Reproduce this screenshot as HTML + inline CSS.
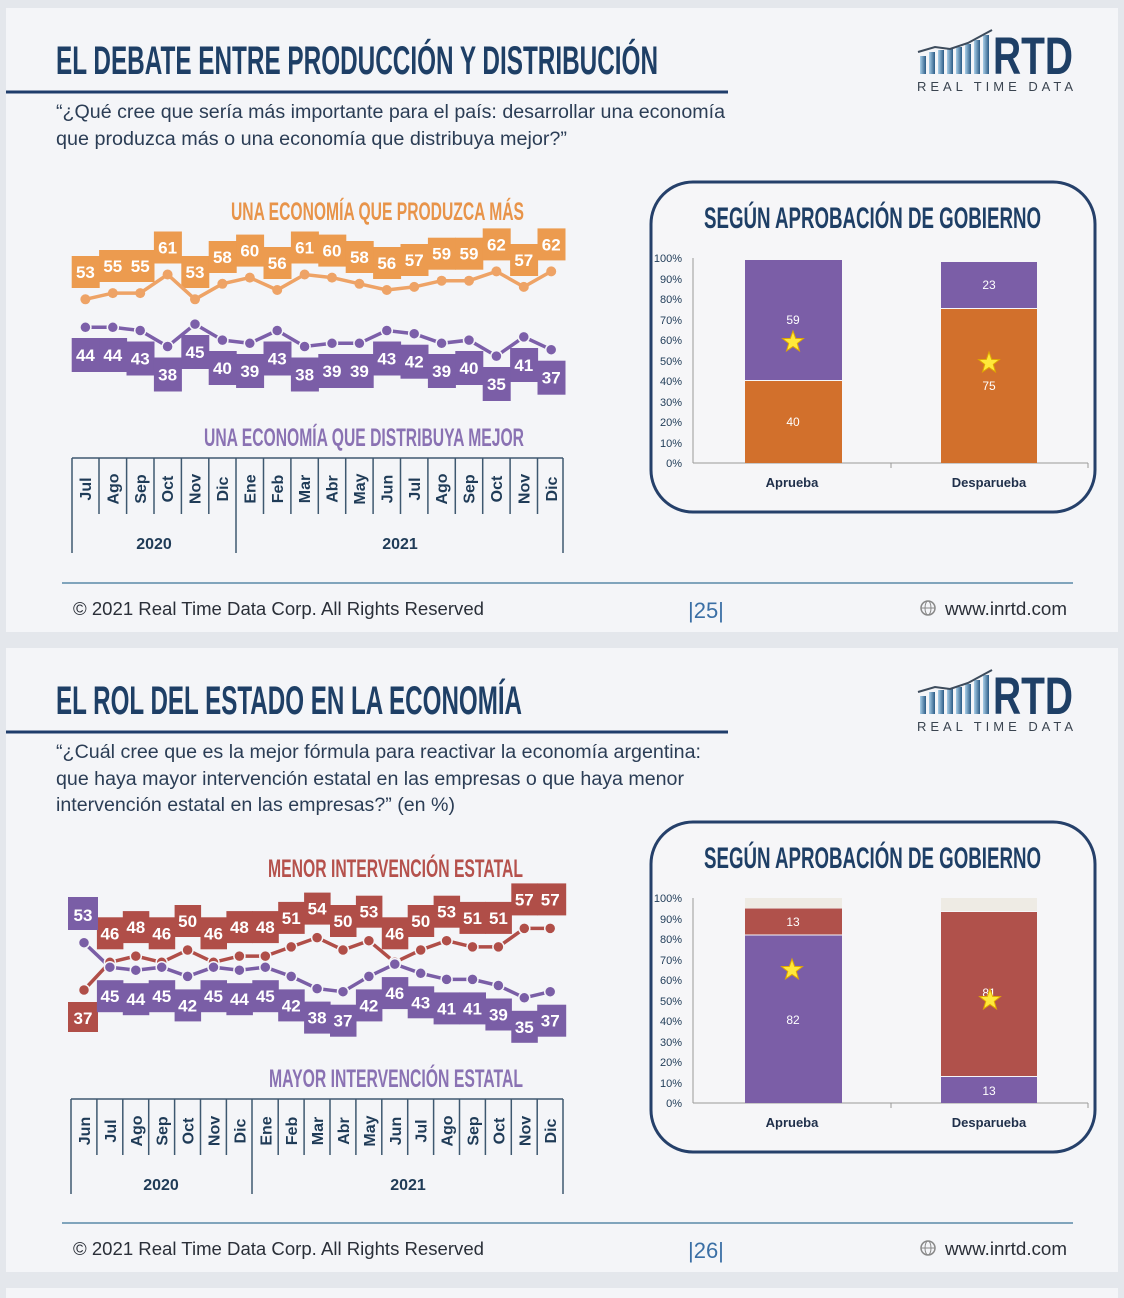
<!DOCTYPE html>
<html><head><meta charset="utf-8"><style>
html,body{margin:0;padding:0;background:#e4e7ec;}
svg{display:block}
text{font-family:"Liberation Sans",sans-serif}
.cd{font-family:"Liberation Sans Narrow","Liberation Sans",sans-serif;font-weight:bold}
.lbl{fill:#fff;font-weight:bold;font-size:17px;text-anchor:middle}
.mo{fill:#1f3b57;font-weight:bold;font-size:16px;text-anchor:middle}
.yt{fill:#1f3b57;font-size:11px;text-anchor:end}
</style></head><body>
<svg width="1124" height="1298" viewBox="0 0 1124 1298" xmlns="http://www.w3.org/2000/svg">
<defs>
<linearGradient id="lg" x1="0" x2="1" y1="0" y2="0"><stop offset="0" stop-color="#a9cfe8"/><stop offset="1" stop-color="#2b5b86"/></linearGradient>
<polygon id="star" points="0,-11 2.64,-3.64 10.46,-3.4 4.28,1.39 6.47,8.9 0,4.5 -6.47,8.9 -4.28,1.39 -10.46,-3.4 -2.64,-3.64" fill="#ffe93a" stroke="#e0a800" stroke-width="1"/>
<g id="common">
<rect x="6" y="8" width="1112" height="624" fill="#f4f5f8"/>
<line x1="6" y1="92" x2="728" y2="92" stroke="#1f3d6b" stroke-width="3"/>
<g>
<rect x="920" y="56" width="6" height="18" fill="url(#lg)"/><rect x="929" y="52" width="6" height="22" fill="url(#lg)"/><rect x="938" y="50" width="6" height="24" fill="url(#lg)"/><rect x="947" y="49" width="6" height="25" fill="url(#lg)"/><rect x="956" y="47" width="6" height="27" fill="url(#lg)"/><rect x="965" y="44" width="6" height="30" fill="url(#lg)"/><rect x="974" y="40" width="6" height="34" fill="url(#lg)"/><rect x="983" y="35" width="6" height="39" fill="url(#lg)"/>
<polyline points="918,52 935,47 950,49 968,43 992,30" fill="none" stroke="#3d4b5c" stroke-width="2"/>
<text x="993" y="74" class="cd" font-size="53" fill="#1e3f66" textLength="80" lengthAdjust="spacingAndGlyphs">RTD</text>
<text x="917" y="91" font-size="13" fill="#3a4450" textLength="156" lengthAdjust="spacing">REAL TIME DATA</text>
</g>
<rect x="651" y="182" width="444" height="330" rx="42" fill="#f6f6f8" stroke="#25406a" stroke-width="3"/>
<text x="704" y="228" class="cd" font-size="30" fill="#1e3f66" textLength="337" lengthAdjust="spacingAndGlyphs">SEGÚN APROBACIÓN DE GOBIERNO</text>
<g class="yt"><text x="682" y="262" class="yt">100%</text><text x="682" y="283" class="yt">90%</text><text x="682" y="303" class="yt">80%</text><text x="682" y="324" class="yt">70%</text><text x="682" y="344" class="yt">60%</text><text x="682" y="365" class="yt">50%</text><text x="682" y="385" class="yt">40%</text><text x="682" y="406" class="yt">30%</text><text x="682" y="426" class="yt">20%</text><text x="682" y="447" class="yt">10%</text><text x="682" y="467" class="yt">0%</text></g>
<line x1="693" y1="258" x2="693" y2="463" stroke="#999"/>
<line x1="693" y1="463" x2="1088" y2="463" stroke="#999"/>
<line x1="891" y1="463" x2="891" y2="468" stroke="#999"/><line x1="1088" y1="463" x2="1088" y2="468" stroke="#999"/>
<text x="792" y="487" font-size="13" font-weight="bold" fill="#1f2f4a" text-anchor="middle">Aprueba</text>
<text x="989" y="487" font-size="13" font-weight="bold" fill="#1f2f4a" text-anchor="middle">Desparueba</text>
<line x1="62" y1="583" x2="1073" y2="583" stroke="#5a8aa8" stroke-width="1.5"/>
<text x="73" y="615" font-size="18" fill="#2a2f38" textLength="411" lengthAdjust="spacingAndGlyphs">© 2021 Real Time Data Corp. All Rights Reserved</text>
<circle cx="928" cy="608" r="7" fill="none" stroke="#888" stroke-width="1.5"/><ellipse cx="928" cy="608" rx="3" ry="7" fill="none" stroke="#888"/><line x1="921" y1="608" x2="935" y2="608" stroke="#888"/>
<text x="945" y="615" font-size="18" fill="#2a2f38" textLength="122" lengthAdjust="spacingAndGlyphs">www.inrtd.com</text>
</g>
</defs>
<use href="#common"/>
<use href="#common" transform="translate(0,640)"/>
<rect x="6" y="1288" width="1112" height="10" fill="#f4f5f8"/>

<!-- SLIDE 1 -->
<text x="56" y="74" class="cd" font-size="40" fill="#1e3f66" textLength="602" lengthAdjust="spacingAndGlyphs">EL DEBATE ENTRE PRODUCCIÓN Y DISTRIBUCIÓN</text>
<text x="56" y="118" font-size="19" fill="#2b3d55" textLength="669" lengthAdjust="spacingAndGlyphs">“¿Qué cree que sería más importante para el país: desarrollar una economía</text>
<text x="56" y="145" font-size="19" fill="#2b3d55" textLength="511" lengthAdjust="spacingAndGlyphs">que produzca más o una economía que distribuya mejor?”</text>
<text x="688" y="618" font-size="22" fill="#3a6fa5">|25|</text>
<text x="231" y="220" class="cd" font-size="25" fill="#e8944a" textLength="293" lengthAdjust="spacingAndGlyphs">UNA ECONOMÍA QUE PRODUZCA MÁS</text>
<text x="204" y="446" class="cd" font-size="25" fill="#8a72b3" textLength="320" lengthAdjust="spacingAndGlyphs">UNA ECONOMÍA QUE DISTRIBUYA MEJOR</text>
<g fill="#ec9b4f">
<rect x="71.7" y="256" width="28" height="32"/><rect x="99.1" y="250" width="28" height="32"/><rect x="126.5" y="250" width="28" height="32"/><rect x="153.9" y="231.5" width="28" height="32"/><rect x="181.3" y="256" width="28" height="32"/><rect x="208.7" y="241" width="28" height="32"/><rect x="236.1" y="234.6" width="28" height="32"/><rect x="263.5" y="247" width="28" height="32"/><rect x="290.9" y="231.5" width="28" height="32"/><rect x="318.3" y="234.6" width="28" height="32"/><rect x="345.7" y="241" width="28" height="32"/><rect x="373.1" y="247" width="28" height="32"/><rect x="400.5" y="244" width="28" height="32"/><rect x="427.9" y="237.7" width="28" height="32"/><rect x="455.3" y="237.7" width="28" height="32"/><rect x="482.7" y="228.4" width="28" height="32"/><rect x="510.1" y="244" width="28" height="32"/><rect x="537.5" y="228.4" width="28" height="32"/>
</g>
<g fill="#7b5ea7">
<rect x="71.7" y="338" width="28" height="34"/><rect x="99.1" y="338" width="28" height="34"/><rect x="126.5" y="341.5" width="28" height="34"/><rect x="153.9" y="357.5" width="28" height="34"/><rect x="181.3" y="335" width="28" height="34"/><rect x="208.7" y="351" width="28" height="34"/><rect x="236.1" y="354" width="28" height="34"/><rect x="263.5" y="341.5" width="28" height="34"/><rect x="290.9" y="357.5" width="28" height="34"/><rect x="318.3" y="354" width="28" height="34"/><rect x="345.7" y="354" width="28" height="34"/><rect x="373.1" y="341.5" width="28" height="34"/><rect x="400.5" y="344.7" width="28" height="34"/><rect x="427.9" y="354" width="28" height="34"/><rect x="455.3" y="351" width="28" height="34"/><rect x="482.7" y="367" width="28" height="34"/><rect x="510.1" y="348" width="28" height="34"/><rect x="537.5" y="360.7" width="28" height="34"/>
</g>
<polyline fill="none" stroke="#eea366" stroke-width="3.5" points="85.4,299.3 112.8,293.1 140.2,293.1 167.6,274.5 195,299.3 222.4,283.8 249.8,277.6 277.2,290 304.6,274.5 332,277.6 359.4,283.8 386.8,290 414.2,286.9 441.6,280.7 469,280.7 496.4,271.4 523.8,286.9 551.2,271.4"/>
<g fill="#eea366"><circle cx="85.4" cy="299.3" r="5"/><circle cx="112.8" cy="293.1" r="5"/><circle cx="140.2" cy="293.1" r="5"/><circle cx="167.6" cy="274.5" r="5"/><circle cx="195" cy="299.3" r="5"/><circle cx="222.4" cy="283.8" r="5"/><circle cx="249.8" cy="277.6" r="5"/><circle cx="277.2" cy="290" r="5"/><circle cx="304.6" cy="274.5" r="5"/><circle cx="332" cy="277.6" r="5"/><circle cx="359.4" cy="283.8" r="5"/><circle cx="386.8" cy="290" r="5"/><circle cx="414.2" cy="286.9" r="5"/><circle cx="441.6" cy="280.7" r="5"/><circle cx="469" cy="280.7" r="5"/><circle cx="496.4" cy="271.4" r="5"/><circle cx="523.8" cy="286.9" r="5"/><circle cx="551.2" cy="271.4" r="5"/></g>
<polyline fill="none" stroke="#7c5fa9" stroke-width="3.5" points="85.4,327.3 112.8,327.3 140.2,330.5 167.6,346.5 195,324.1 222.4,340.1 249.8,343.3 277.2,330.5 304.6,346.5 332,343.3 359.4,343.3 386.8,330.5 414.2,333.7 441.6,343.3 469,340.1 496.4,356.1 523.8,336.9 551.2,349.7"/>
<g fill="#7c5fa9" stroke="#f4f5f8" stroke-width="1.5"><circle cx="85.4" cy="327.3" r="5.5"/><circle cx="112.8" cy="327.3" r="5.5"/><circle cx="140.2" cy="330.5" r="5.5"/><circle cx="167.6" cy="346.5" r="5.5"/><circle cx="195" cy="324.1" r="5.5"/><circle cx="222.4" cy="340.1" r="5.5"/><circle cx="249.8" cy="343.3" r="5.5"/><circle cx="277.2" cy="330.5" r="5.5"/><circle cx="304.6" cy="346.5" r="5.5"/><circle cx="332" cy="343.3" r="5.5"/><circle cx="359.4" cy="343.3" r="5.5"/><circle cx="386.8" cy="330.5" r="5.5"/><circle cx="414.2" cy="333.7" r="5.5"/><circle cx="441.6" cy="343.3" r="5.5"/><circle cx="469" cy="340.1" r="5.5"/><circle cx="496.4" cy="356.1" r="5.5"/><circle cx="523.8" cy="336.9" r="5.5"/><circle cx="551.2" cy="349.7" r="5.5"/></g>
<g>
<text class="lbl" x="85.4" y="278">53</text><text class="lbl" x="112.8" y="272">55</text><text class="lbl" x="140.2" y="272">55</text><text class="lbl" x="167.6" y="253.5">61</text><text class="lbl" x="195" y="278">53</text><text class="lbl" x="222.4" y="263">58</text><text class="lbl" x="249.8" y="256.6">60</text><text class="lbl" x="277.2" y="269">56</text><text class="lbl" x="304.6" y="253.5">61</text><text class="lbl" x="332" y="256.6">60</text><text class="lbl" x="359.4" y="263">58</text><text class="lbl" x="386.8" y="269">56</text><text class="lbl" x="414.2" y="266">57</text><text class="lbl" x="441.6" y="259.7">59</text><text class="lbl" x="469" y="259.7">59</text><text class="lbl" x="496.4" y="250.4">62</text><text class="lbl" x="523.8" y="266">57</text><text class="lbl" x="551.2" y="250.4">62</text>
<text class="lbl" x="85.4" y="361">44</text><text class="lbl" x="112.8" y="361">44</text><text class="lbl" x="140.2" y="364.5">43</text><text class="lbl" x="167.6" y="380.5">38</text><text class="lbl" x="195" y="358">45</text><text class="lbl" x="222.4" y="374">40</text><text class="lbl" x="249.8" y="377">39</text><text class="lbl" x="277.2" y="364.5">43</text><text class="lbl" x="304.6" y="380.5">38</text><text class="lbl" x="332" y="377">39</text><text class="lbl" x="359.4" y="377">39</text><text class="lbl" x="386.8" y="364.5">43</text><text class="lbl" x="414.2" y="367.7">42</text><text class="lbl" x="441.6" y="377">39</text><text class="lbl" x="469" y="374">40</text><text class="lbl" x="496.4" y="390">35</text><text class="lbl" x="523.8" y="371">41</text><text class="lbl" x="551.2" y="383.7">37</text>
</g>
<g stroke="#3e5870" stroke-width="1.5">
<line x1="72" y1="458" x2="563" y2="458"/>
<line x1="72" y1="458" x2="72" y2="553"/><line x1="236" y1="458" x2="236" y2="553"/><line x1="563" y1="458" x2="563" y2="553"/>
<line x1="99" y1="458" x2="99" y2="514"/><line x1="126.6" y1="458" x2="126.6" y2="514"/><line x1="154" y1="458" x2="154" y2="514"/><line x1="181.4" y1="458" x2="181.4" y2="514"/><line x1="208.8" y1="458" x2="208.8" y2="514"/><line x1="263.5" y1="458" x2="263.5" y2="514"/><line x1="290.9" y1="458" x2="290.9" y2="514"/><line x1="318.3" y1="458" x2="318.3" y2="514"/><line x1="345.7" y1="458" x2="345.7" y2="514"/><line x1="373.1" y1="458" x2="373.1" y2="514"/><line x1="400.5" y1="458" x2="400.5" y2="514"/><line x1="427.9" y1="458" x2="427.9" y2="514"/><line x1="455.3" y1="458" x2="455.3" y2="514"/><line x1="482.7" y1="458" x2="482.7" y2="514"/><line x1="510.1" y1="458" x2="510.1" y2="514"/><line x1="537.5" y1="458" x2="537.5" y2="514"/>
</g>
<g>
<text class="mo" transform="translate(91,489) rotate(-90)">Jul</text><text class="mo" transform="translate(118.4,489) rotate(-90)">Ago</text><text class="mo" transform="translate(145.8,489) rotate(-90)">Sep</text><text class="mo" transform="translate(173.2,489) rotate(-90)">Oct</text><text class="mo" transform="translate(200.6,489) rotate(-90)">Nov</text><text class="mo" transform="translate(228,489) rotate(-90)">Dic</text><text class="mo" transform="translate(255.4,489) rotate(-90)">Ene</text><text class="mo" transform="translate(282.8,489) rotate(-90)">Feb</text><text class="mo" transform="translate(310.2,489) rotate(-90)">Mar</text><text class="mo" transform="translate(337.6,489) rotate(-90)">Abr</text><text class="mo" transform="translate(365,489) rotate(-90)">May</text><text class="mo" transform="translate(392.4,489) rotate(-90)">Jun</text><text class="mo" transform="translate(419.8,489) rotate(-90)">Jul</text><text class="mo" transform="translate(447.2,489) rotate(-90)">Ago</text><text class="mo" transform="translate(474.6,489) rotate(-90)">Sep</text><text class="mo" transform="translate(502,489) rotate(-90)">Oct</text><text class="mo" transform="translate(529.4,489) rotate(-90)">Nov</text><text class="mo" transform="translate(556.8,489) rotate(-90)">Dic</text>
<text x="154" y="549" class="mo" font-size="17">2020</text><text x="400" y="549" class="mo" font-size="17">2021</text>
</g>
<rect x="745" y="381" width="97" height="82" fill="#d2702c"/><rect x="745" y="260" width="97" height="120" fill="#7b5ea7"/>
<rect x="941" y="309" width="96" height="154" fill="#d2702c"/><rect x="941" y="262" width="96" height="46" fill="#7b5ea7"/>
<g fill="#fff" font-size="12" text-anchor="middle"><text x="793" y="324">59</text><text x="793" y="426">40</text><text x="989" y="289">23</text><text x="989" y="390">75</text></g>
<use href="#star" x="793" y="342"/><use href="#star" x="989" y="363"/>

<!-- SLIDE 2 -->
<text x="56" y="714" class="cd" font-size="40" fill="#1e3f66" textLength="466" lengthAdjust="spacingAndGlyphs">EL ROL DEL ESTADO EN LA ECONOMÍA</text>
<text x="56" y="758" font-size="19" fill="#2b3d55" textLength="645" lengthAdjust="spacingAndGlyphs">“¿Cuál cree que es la mejor fórmula para reactivar la economía argentina:</text>
<text x="56" y="785" font-size="19" fill="#2b3d55" textLength="628" lengthAdjust="spacingAndGlyphs">que haya mayor intervención estatal en las empresas o que haya menor</text>
<text x="56" y="811" font-size="19" fill="#2b3d55" textLength="399" lengthAdjust="spacingAndGlyphs">intervención estatal en las empresas?” (en %)</text>
<text x="688" y="1258" font-size="22" fill="#3a6fa5">|26|</text>
<text x="268" y="877" class="cd" font-size="25" fill="#b5514c" textLength="255" lengthAdjust="spacingAndGlyphs">MENOR INTERVENCIÓN ESTATAL</text>
<text x="269" y="1087" class="cd" font-size="25" fill="#8a72b3" textLength="254" lengthAdjust="spacingAndGlyphs">MAYOR INTERVENCIÓN ESTATAL</text>
<g fill="#b04e48">
<rect x="68" y="1002" width="30" height="30"/>
<rect x="96.9" y="917.3" width="26.5" height="32"/><rect x="122.8" y="911.1" width="26.5" height="32"/><rect x="148.7" y="917.3" width="26.5" height="32"/><rect x="174.6" y="905" width="26.5" height="32"/><rect x="200.5" y="917.3" width="26.5" height="32"/><rect x="226.4" y="911.1" width="26.5" height="32"/><rect x="252.3" y="911.1" width="26.5" height="32"/><rect x="278.2" y="901.9" width="26.5" height="32"/><rect x="304.1" y="892.6" width="26.5" height="32"/><rect x="330" y="905" width="26.5" height="32"/><rect x="355.9" y="895.7" width="26.5" height="32"/><rect x="381.8" y="917.3" width="26.5" height="32"/><rect x="407.7" y="905" width="26.5" height="32"/><rect x="433.6" y="895.7" width="26.5" height="32"/><rect x="459.5" y="901.9" width="26.5" height="32"/><rect x="485.4" y="901.9" width="26.5" height="32"/><rect x="511.3" y="883.4" width="26.5" height="32"/><rect x="537.2" y="883.4" width="29" height="32"/>
</g>
<g fill="#7a5ea6">
<rect x="68" y="897" width="30" height="33"/>
<rect x="96.9" y="980.2" width="26.5" height="32"/><rect x="122.8" y="983.2" width="26.5" height="32"/><rect x="148.7" y="980.2" width="26.5" height="32"/><rect x="174.6" y="989.4" width="26.5" height="32"/><rect x="200.5" y="980.2" width="26.5" height="32"/><rect x="226.4" y="983.2" width="26.5" height="32"/><rect x="252.3" y="980.2" width="26.5" height="32"/><rect x="278.2" y="989.4" width="26.5" height="32"/><rect x="304.1" y="1001.6" width="26.5" height="32"/><rect x="330" y="1004.7" width="26.5" height="32"/><rect x="355.9" y="989.4" width="26.5" height="32"/><rect x="381.8" y="977.1" width="26.5" height="32"/><rect x="407.7" y="986.3" width="26.5" height="32"/><rect x="433.6" y="992.4" width="26.5" height="32"/><rect x="459.5" y="992.4" width="26.5" height="32"/><rect x="485.4" y="998.5" width="26.5" height="32"/><rect x="511.3" y="1010.8" width="26.5" height="32"/><rect x="537.2" y="1004.7" width="29" height="32"/>
</g>
<polyline fill="none" stroke="#b04e48" stroke-width="3.5" points="84,990 109.9,962.3 135.8,956.1 161.7,962.3 187.6,950 213.5,962.3 239.4,956.1 265.3,956.1 291.2,946.9 317.1,937.6 343,950 368.9,940.7 394.8,962.3 420.7,950 446.6,940.7 472.5,946.9 498.4,946.9 524.3,928.4 550.2,928.4"/>
<polyline fill="none" stroke="#7a5ea6" stroke-width="3.5" points="84,942.7 109.9,967.2 135.8,970.2 161.7,967.2 187.6,976.4 213.5,967.2 239.4,970.2 265.3,967.2 291.2,976.4 317.1,988.6 343,991.7 368.9,976.4 394.8,964.1 420.7,973.3 446.6,979.4 472.5,979.4 498.4,985.5 524.3,997.8 550.2,991.7"/>
<g fill="#b04e48" stroke="#f4f5f8" stroke-width="1.5"><circle cx="84" cy="990" r="5.5"/><circle cx="109.9" cy="962.3" r="5.5"/><circle cx="135.8" cy="956.1" r="5.5"/><circle cx="161.7" cy="962.3" r="5.5"/><circle cx="187.6" cy="950" r="5.5"/><circle cx="213.5" cy="962.3" r="5.5"/><circle cx="239.4" cy="956.1" r="5.5"/><circle cx="265.3" cy="956.1" r="5.5"/><circle cx="291.2" cy="946.9" r="5.5"/><circle cx="317.1" cy="937.6" r="5.5"/><circle cx="343" cy="950" r="5.5"/><circle cx="368.9" cy="940.7" r="5.5"/><circle cx="394.8" cy="962.3" r="5.5"/><circle cx="420.7" cy="950" r="5.5"/><circle cx="446.6" cy="940.7" r="5.5"/><circle cx="472.5" cy="946.9" r="5.5"/><circle cx="498.4" cy="946.9" r="5.5"/><circle cx="524.3" cy="928.4" r="5.5"/><circle cx="550.2" cy="928.4" r="5.5"/></g>
<g fill="#7a5ea6" stroke="#f4f5f8" stroke-width="1.5"><circle cx="84" cy="942.7" r="5.5"/><circle cx="109.9" cy="967.2" r="5.5"/><circle cx="135.8" cy="970.2" r="5.5"/><circle cx="161.7" cy="967.2" r="5.5"/><circle cx="187.6" cy="976.4" r="5.5"/><circle cx="213.5" cy="967.2" r="5.5"/><circle cx="239.4" cy="970.2" r="5.5"/><circle cx="265.3" cy="967.2" r="5.5"/><circle cx="291.2" cy="976.4" r="5.5"/><circle cx="317.1" cy="988.6" r="5.5"/><circle cx="343" cy="991.7" r="5.5"/><circle cx="368.9" cy="976.4" r="5.5"/><circle cx="394.8" cy="964.1" r="5.5"/><circle cx="420.7" cy="973.3" r="5.5"/><circle cx="446.6" cy="979.4" r="5.5"/><circle cx="472.5" cy="979.4" r="5.5"/><circle cx="498.4" cy="985.5" r="5.5"/><circle cx="524.3" cy="997.8" r="5.5"/><circle cx="550.2" cy="991.7" r="5.5"/></g>
<g>
<text class="lbl" x="83" y="1024">37</text><text class="lbl" x="83" y="921">53</text>
<text class="lbl" x="109.9" y="939.3">46</text><text class="lbl" x="135.8" y="933.1">48</text><text class="lbl" x="161.7" y="939.3">46</text><text class="lbl" x="187.6" y="927">50</text><text class="lbl" x="213.5" y="939.3">46</text><text class="lbl" x="239.4" y="933.1">48</text><text class="lbl" x="265.3" y="933.1">48</text><text class="lbl" x="291.2" y="923.9">51</text><text class="lbl" x="317.1" y="914.6">54</text><text class="lbl" x="343" y="927">50</text><text class="lbl" x="368.9" y="917.7">53</text><text class="lbl" x="394.8" y="939.3">46</text><text class="lbl" x="420.7" y="927">50</text><text class="lbl" x="446.6" y="917.7">53</text><text class="lbl" x="472.5" y="923.9">51</text><text class="lbl" x="498.4" y="923.9">51</text><text class="lbl" x="524.3" y="905.4">57</text><text class="lbl" x="550.2" y="905.4">57</text>
<text class="lbl" x="109.9" y="1002.2">45</text><text class="lbl" x="135.8" y="1005.2">44</text><text class="lbl" x="161.7" y="1002.2">45</text><text class="lbl" x="187.6" y="1011.4">42</text><text class="lbl" x="213.5" y="1002.2">45</text><text class="lbl" x="239.4" y="1005.2">44</text><text class="lbl" x="265.3" y="1002.2">45</text><text class="lbl" x="291.2" y="1011.4">42</text><text class="lbl" x="317.1" y="1023.6">38</text><text class="lbl" x="343" y="1026.7">37</text><text class="lbl" x="368.9" y="1011.4">42</text><text class="lbl" x="394.8" y="999.1">46</text><text class="lbl" x="420.7" y="1008.3">43</text><text class="lbl" x="446.6" y="1014.4">41</text><text class="lbl" x="472.5" y="1014.4">41</text><text class="lbl" x="498.4" y="1020.5">39</text><text class="lbl" x="524.3" y="1032.8">35</text><text class="lbl" x="550.2" y="1026.7">37</text>
</g>
<g stroke="#3e5870" stroke-width="1.5">
<line x1="71" y1="1099" x2="563" y2="1099"/>
<line x1="71" y1="1099" x2="71" y2="1194"/><line x1="252" y1="1099" x2="252" y2="1194"/><line x1="563" y1="1099" x2="563" y2="1194"/>
<line x1="96.9" y1="1099" x2="96.9" y2="1155"/><line x1="122.8" y1="1099" x2="122.8" y2="1155"/><line x1="148.7" y1="1099" x2="148.7" y2="1155"/><line x1="174.6" y1="1099" x2="174.6" y2="1155"/><line x1="200.5" y1="1099" x2="200.5" y2="1155"/><line x1="226.4" y1="1099" x2="226.4" y2="1155"/><line x1="278.2" y1="1099" x2="278.2" y2="1155"/><line x1="304.1" y1="1099" x2="304.1" y2="1155"/><line x1="330" y1="1099" x2="330" y2="1155"/><line x1="355.9" y1="1099" x2="355.9" y2="1155"/><line x1="381.8" y1="1099" x2="381.8" y2="1155"/><line x1="407.7" y1="1099" x2="407.7" y2="1155"/><line x1="433.6" y1="1099" x2="433.6" y2="1155"/><line x1="459.5" y1="1099" x2="459.5" y2="1155"/><line x1="485.4" y1="1099" x2="485.4" y2="1155"/><line x1="511.3" y1="1099" x2="511.3" y2="1155"/><line x1="537.2" y1="1099" x2="537.2" y2="1155"/>
</g>
<g>
<text class="mo" transform="translate(90,1131) rotate(-90)">Jun</text><text class="mo" transform="translate(115.9,1131) rotate(-90)">Jul</text><text class="mo" transform="translate(141.8,1131) rotate(-90)">Ago</text><text class="mo" transform="translate(167.7,1131) rotate(-90)">Sep</text><text class="mo" transform="translate(193.6,1131) rotate(-90)">Oct</text><text class="mo" transform="translate(219.5,1131) rotate(-90)">Nov</text><text class="mo" transform="translate(245.4,1131) rotate(-90)">Dic</text><text class="mo" transform="translate(271.3,1131) rotate(-90)">Ene</text><text class="mo" transform="translate(297.2,1131) rotate(-90)">Feb</text><text class="mo" transform="translate(323.1,1131) rotate(-90)">Mar</text><text class="mo" transform="translate(349,1131) rotate(-90)">Abr</text><text class="mo" transform="translate(374.9,1131) rotate(-90)">May</text><text class="mo" transform="translate(400.8,1131) rotate(-90)">Jun</text><text class="mo" transform="translate(426.7,1131) rotate(-90)">Jul</text><text class="mo" transform="translate(452.6,1131) rotate(-90)">Ago</text><text class="mo" transform="translate(478.5,1131) rotate(-90)">Sep</text><text class="mo" transform="translate(504.4,1131) rotate(-90)">Oct</text><text class="mo" transform="translate(530.3,1131) rotate(-90)">Nov</text><text class="mo" transform="translate(556.2,1131) rotate(-90)">Dic</text>
<text x="161" y="1190" class="mo" font-size="17">2020</text><text x="408" y="1190" class="mo" font-size="17">2021</text>
</g>
<rect x="745" y="898" width="97" height="10" fill="#eeebe4"/><rect x="745" y="908.5" width="97" height="26" fill="#b0514b"/><rect x="745" y="935.5" width="97" height="167.5" fill="#7b5ea7"/>
<rect x="941" y="898" width="96" height="13" fill="#eeebe4"/><rect x="941" y="912" width="96" height="164" fill="#b0514b"/><rect x="941" y="1077" width="96" height="26" fill="#7b5ea7"/>
<g fill="#fff" font-size="12" text-anchor="middle"><text x="793" y="926">13</text><text x="793" y="1024">82</text><text x="989" y="1095">13</text><text x="989" y="997">81</text></g>
<use href="#star" x="792" y="970"/><use href="#star" x="990" y="1000"/>
</svg>
</body></html>
